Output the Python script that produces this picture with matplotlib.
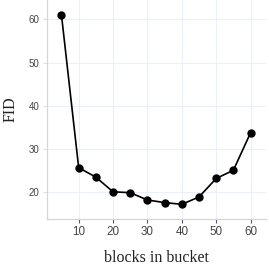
import matplotlib
matplotlib.use("Agg")
import matplotlib.pyplot as plt

blocks = [5, 10, 15, 20, 25, 30, 35, 40, 45, 50, 55, 60]
fid = [61.0, 25.6, 23.4, 20.0, 19.8, 18.1, 17.5, 17.1, 18.8, 23.1, 25.0, 33.7]
xticks = [10, 20, 30, 40, 50, 60]
yticks = [20, 30, 40, 50, 60]

fig = plt.figure(figsize=(2.69, 2.69), dpi=100)
ax = fig.add_axes([0.1736, 0.186, 0.989 - 0.1736, 0.814])
ax.plot(blocks, fid, color="black", lw=1.2, marker="o", ms=5, zorder=3)
ax.set_xlim(0.7, 64.5)
ax.set_ylim(13.7, 64.5)
ax.set_xticks(xticks)
ax.set_yticks(yticks)
ax.grid(True, color="#ebf0f8", lw=0.8)
ax.set_axisbelow(True)
for s in ["top", "right"]:
    ax.spines[s].set_visible(False)
for s in ["left", "bottom"]:
    ax.spines[s].set_color("#d6d6d6")
    ax.spines[s].set_linewidth(0.9)
ax.tick_params(axis="x", colors="#555555", length=3, width=0.8, labelcolor="#444444",
               labelsize=8.4, pad=2)
ax.tick_params(axis="y", colors="#dddddd", length=3, width=0.8, labelcolor="#444444",
               labelsize=7.0, pad=2)
for lab in ax.get_xticklabels() + ax.get_yticklabels():
    lab.set_family("Liberation Sans")
ax.set_xlabel("blocks in bucket", family="Liberation Serif", fontsize=11.5, color="#222222")
ax.set_ylabel("FID", family="Liberation Serif", fontsize=11.5, color="#222222")
ax.yaxis.set_label_coords(-0.13, 0.5)
ax.xaxis.set_label_coords(0.5, -0.14)
fig.savefig("out.png", dpi=100)
